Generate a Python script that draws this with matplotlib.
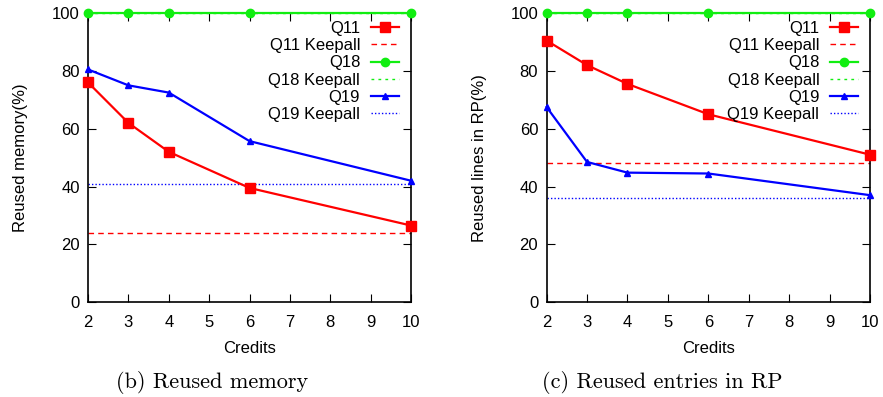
import matplotlib
matplotlib.use("Agg")
import matplotlib.pyplot as plt

credits = [2, 3, 4, 6, 10]

# (b) reused memory
mem_q11 = [76, 62, 52, 39.5, 26.5]
mem_q18 = [100, 100, 100, 100, 100]
mem_q19 = [80.5, 75, 72.5, 55.7, 42]
mem_keep = {"Q11": 24, "Q18": 100, "Q19": 41}

# (c) reused entries in RP
rp_q11 = [90.5, 82, 75.5, 65, 51]
rp_q18 = [100, 100, 100, 100, 100]
rp_q19 = [67.5, 48.5, 44.8, 44.5, 37]
rp_keep = {"Q11": 48, "Q18": 100, "Q19": 36}

plt.rcParams['font.family'] = ['Liberation Sans', 'DejaVu Sans']
plt.rcParams['font.size'] = 12

fig = plt.figure(figsize=(8.83, 3.97), dpi=100)
ax1 = fig.add_axes([0.0997, 0.239, 0.3658, 0.728])
ax2 = fig.add_axes([0.6190, 0.239, 0.3664, 0.728])


def panel(ax, q11, q18, q19, keep, ylabel):
    ax.plot(credits, q11, color='#ff0000', lw=1.6, marker='s', ms=7, label='Q11', zorder=3)
    ax.axhline(keep["Q11"], color='#ff0000', lw=1, ls=(0, (4, 3)), label='Q11 Keepall')
    ax.plot(credits, q18, color='#11ee11', lw=1.6, marker='o', ms=6, label='Q18', zorder=3)
    ax.axhline(keep["Q18"], color='#11ee11', lw=1, ls=(0, (2, 3)), label='Q18 Keepall')
    ax.plot(credits, q19, color='#0000ff', lw=1.6, marker='^', ms=5, label='Q19', zorder=3)
    ax.axhline(keep["Q19"], color='#0000ff', lw=1, ls=(0, (1, 1.5)), label='Q19 Keepall')
    ax.set_xlim(2, 10)
    ax.set_ylim(0, 100)
    ax.set_xticks(range(2, 11))
    ax.set_yticks(range(0, 101, 20))
    ax.tick_params(direction='in', top=True, right=True, length=6, labelsize=12)
    ax.tick_params(axis='x', pad=9)
    ax.tick_params(axis='y', pad=6)
    ax.set_xlabel('Credits', fontsize=12, labelpad=8)
    ax.set_ylabel(ylabel, fontsize=12, labelpad=17)
    for s in ax.spines.values():
        s.set_linewidth(1.2)
    for ln in ax.get_lines():
        ln.set_clip_on(False)
    ax.legend(loc='upper right', bbox_to_anchor=(1.0, 1.013), markerfirst=False,
              frameon=False, fontsize=12, handlelength=1.7, handletextpad=0.65,
              labelspacing=0.13, borderaxespad=0.3)


panel(ax1, mem_q11, mem_q18, mem_q19, mem_keep, 'Reused memory(%)')
panel(ax2, rp_q11, rp_q18, rp_q19, rp_keep, 'Reused lines in RP(%)')

fig.text(0.240, 0.022, '(b) Reused memory', family='cmr10', fontsize=16, ha='center')
fig.text(0.750, 0.022, '(c) Reused entries in RP', family='cmr10', fontsize=16, ha='center')

fig.savefig('out.png', dpi=100)
